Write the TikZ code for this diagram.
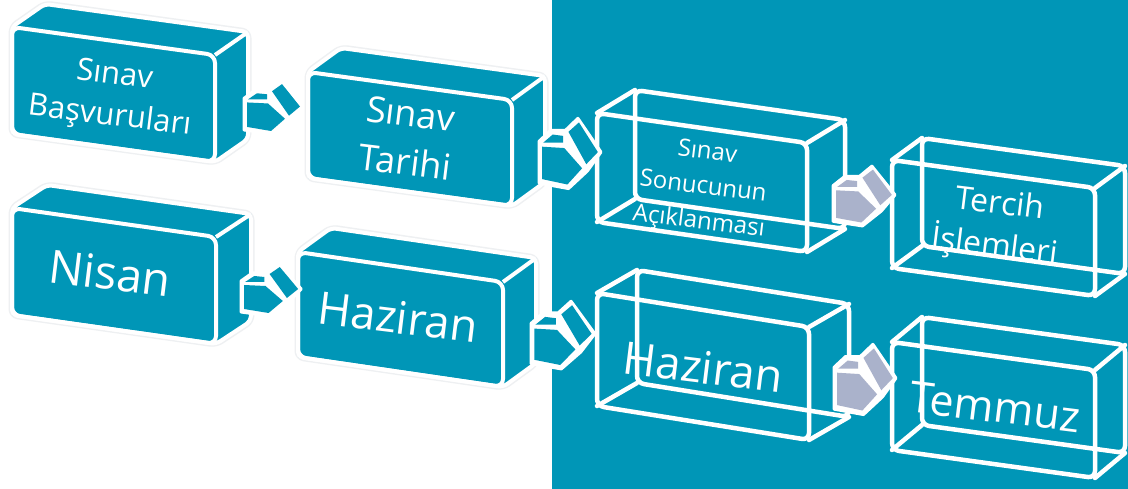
\documentclass[tikz,border=0pt]{standalone}
\usepackage{fontspec}
\setmainfont{Open Sans}
\usetikzlibrary{calc}
\definecolor{teal1}{RGB}{0,150,183}
\definecolor{arrgray}{RGB}{170,178,203}
\definecolor{halo}{RGB}{238,240,242}
\tikzset{
 solidline/.style={draw=white, line width=4pt, line join=round, rounded corners=5pt},
 frontline/.style={draw=white, line width=4pt, line join=round, rounded corners=8pt},
 haloline/.style={draw=halo, line width=7pt, line join=round, rounded corners=6pt},
 wireline/.style={draw=white, line width=4.5pt, line join=round, line cap=round, rounded corners=7pt},
 arrowline/.style={draw=white, line width=3pt, line join=round},
 boxtext/.style={text=white, align=center, rotate=-7, inner sep=0pt},
}
\newcommand\cubecoords[8]{%
 \coordinate (#1-ftl) at (#2,#3);
 \coordinate (#1-ftr) at (#2+#4,#3+#6);
 \coordinate (#1-fbr) at (#2+#4,#3+#6+#5);
 \coordinate (#1-fbl) at (#2,#3+#5);
 \coordinate (#1-btl) at (#2+#7,#3+#8);
 \coordinate (#1-btr) at (#2+#4+#7,#3+#6+#8);
 \coordinate (#1-bbr) at (#2+#4+#7,#3+#6+#5+#8);
 \coordinate (#1-bbl) at (#2+#7,#3+#5+#8);
}
\newcommand\solidcube[1]{%
 \draw[haloline] (#1-ftl) -- (#1-btl) -- (#1-btr) -- (#1-bbr) -- (#1-fbr) -- (#1-fbl) -- cycle;
 \fill[teal1] (#1-ftl) -- (#1-btl) -- (#1-btr) -- (#1-bbr) -- (#1-fbr) -- (#1-fbl) -- cycle;
 \draw[solidline] (#1-ftl) -- (#1-btl) -- (#1-btr) -- (#1-bbr) -- (#1-fbr) -- (#1-fbl) -- cycle;
 \draw[solidline] (#1-ftr) -- (#1-btr);
 \draw[frontline] (#1-ftl) -- (#1-ftr) -- (#1-fbr) -- (#1-fbl) -- cycle;
}
\newcommand\wirecube[1]{%
 \draw[wireline] (#1-btl) -- (#1-btr) -- (#1-bbr) -- (#1-bbl) -- cycle;
 \draw[wireline] (#1-ftl) -- (#1-btl);
 \draw[wireline] (#1-ftr) -- (#1-btr);
 \draw[wireline] (#1-fbr) -- (#1-bbr);
 \draw[wireline] (#1-fbl) -- (#1-bbl);
 \draw[wireline] (#1-ftl) -- (#1-ftr) -- (#1-fbr) -- (#1-fbl) -- cycle;
}
\newcommand\blockarrow[5]{%
 \begin{scope}[shift={(#1,#2)},xscale=#3,yscale=#4]
  \filldraw[fill=white, arrowline] (1,18) -- (12,10) -- (26,10) -- (38,1) -- (60,26) -- (47,40) -- (29,53) -- (1,49) -- cycle;
  \fill[#5] (5,19) -- (14,13) -- (24,14) -- (24,19) -- cycle;
  \fill[#5] (4,22) -- (25,23) -- (42,38) -- (28,50) -- (4,46) -- cycle;
  \fill[#5] (29,11) -- (39,4) -- (57,26) -- (46,35) -- cycle;
 \end{scope}}
\begin{document}
\begin{tikzpicture}[x=1pt,y=-1pt]
\useasboundingbox (0,0) rectangle (1128,489);
\fill[white] (0,0) rectangle (1128,489);
\fill[teal1] (552,0) rectangle (1128,489);

\cubecoords{b1}{12}{27}{203}{107}{28}{33}{-23}
\cubecoords{b2}{308}{72}{204}{106}{28}{33}{-24}
\cubecoords{b3}{597}{113}{210}{109}{30}{38}{-23}
\cubecoords{b4}{892}{160}{203}{108}{28}{30}{-22}
\cubecoords{b5}{12}{208}{204}{107}{29}{35}{-23}
\cubecoords{b6}{298}{252}{205}{105}{30}{33}{-24}
\cubecoords{b7}{597}{293}{212}{113}{34}{40}{-23}
\cubecoords{b8}{892}{342}{203}{108}{28}{30}{-25}

% solid boxes (white side)
\solidcube{b1}
\solidcube{b2}
\solidcube{b5}
\solidcube{b6}
\node[boxtext, font={\fontsize{31}{41}\selectfont}] (t1) at (112,97) {Sınav\\Başvuruları};
\node[boxtext, font={\fontsize{36}{49}\selectfont}] (t2) at (408,138) {Sınav\\Tarihi};
\node[boxtext, font={\fontsize{46}{50}\selectfont}] (t5) at (110,273) {Nisan};
\node[boxtext, font={\fontsize{45}{50}\selectfont}] (t6) at (398,317) {Haziran};

% wire boxes (teal side)
\node[boxtext, font={\fontsize{24}{35}\selectfont}] (t3) at (703,188) {Sınav\\Sonucunun\\Açıklanması};
\node[boxtext, font={\fontsize{32}{43}\selectfont}] (t4) at (997,227) {Tercih\\İşlemleri};
\node[boxtext, font={\fontsize{45}{50}\selectfont}] (t7) at (703,367) {Haziran};
\node[boxtext, font={\fontsize{43}{50}\selectfont}] (t8) at (995,407) {Temmuz};
\wirecube{b3}
\wirecube{b4}
\wirecube{b7}
\wirecube{b8}

% arrows
\blockarrow{243}{80}{1.0}{1.02}{teal1}
\blockarrow{538}{117}{1.05}{1.35}{teal1}
\blockarrow{832}{165}{1.05}{1.15}{arrgray}
\blockarrow{240}{263}{1.02}{1.0}{teal1}
\blockarrow{530}{300}{1.08}{1.3}{teal1}
\blockarrow{833}{343}{1.05}{1.35}{arrgray}
\end{tikzpicture}
\end{document}
